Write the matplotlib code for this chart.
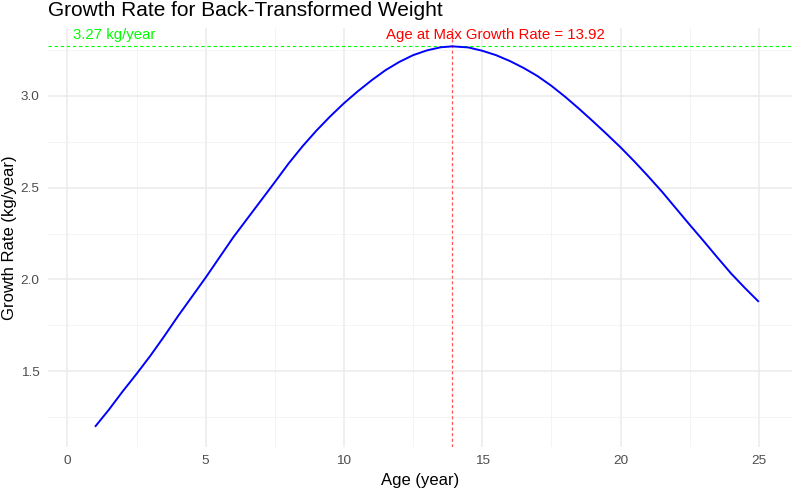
import matplotlib
matplotlib.use("Agg")
import matplotlib.pyplot as plt
from matplotlib.ticker import MultipleLocator

# Data
age = [1, 1.5, 2, 2.5, 3, 3.5, 4, 4.5, 5, 5.5, 6, 6.5, 7, 7.5, 8, 8.5, 9, 9.5, 10,
       10.5, 11, 11.5, 12, 12.5, 13, 13.5, 13.92, 14.5, 15, 15.5, 16, 16.5, 17, 17.5,
       18, 18.5, 19, 19.5, 20, 20.5, 21, 21.5, 22, 22.5, 23, 23.5, 24, 24.5, 25]
growth_rate = [1.197, 1.29, 1.39, 1.485, 1.584, 1.69, 1.80, 1.905, 2.01, 2.12, 2.23, 2.33,
               2.43, 2.53, 2.632, 2.725, 2.81, 2.888, 2.96, 3.025, 3.085, 3.14, 3.185,
               3.222, 3.248, 3.265, 3.27, 3.264, 3.246, 3.222, 3.19, 3.152, 3.108, 3.055,
               2.995, 2.93, 2.862, 2.792, 2.72, 2.643, 2.562, 2.478, 2.388, 2.298, 2.21,
               2.12, 2.032, 1.953, 1.878]
max_rate = 3.27
age_at_max = 13.92
x_ticks = [0, 5, 10, 15, 20, 25]
y_ticks = [1.5, 2.0, 2.5, 3.0]

plt.rcParams['font.family'] = ['Liberation Sans', 'DejaVu Sans']

fig = plt.figure(figsize=(7.94, 4.91), dpi=100)
ax = fig.add_axes([48/794, 1-447/491, (792-48)/794, (447-28)/491])

ax.set_xlim(-0.70, 26.2)
ax.set_ylim(1.087, 3.37)

# grid
ax.set_xticks(x_ticks)
ax.set_yticks(y_ticks)
ax.xaxis.set_minor_locator(MultipleLocator(2.5))
ax.yaxis.set_minor_locator(MultipleLocator(0.25))
ax.grid(which='major', color='#EBEBEB', linewidth=1.1, zorder=0)
ax.grid(which='minor', color='#F2F2F2', linewidth=0.6, zorder=0)
ax.set_axisbelow(True)
for s in ax.spines.values():
    s.set_visible(False)
ax.tick_params(which='both', length=0)
ax.tick_params(axis='x', pad=6, labelsize=9.7, labelcolor='#4D4D4D')
ax.tick_params(axis='y', pad=6, labelsize=9.7, labelcolor='#4D4D4D')
ax.set_xticklabels([str(v) for v in x_ticks])
ax.set_yticklabels([f"{v:.1f}" for v in y_ticks])

ax.plot(age, growth_rate, color='#0000FF', linewidth=1.4, zorder=3,
        solid_capstyle='butt', solid_joinstyle='round')
ax.axhline(max_rate, color='#00FF00', linestyle=(0, (3, 2.5)), linewidth=0.8, zorder=2)
ax.axvline(age_at_max, color='#FF5555', linestyle=(0, (2.5, 2)), linewidth=0.9, zorder=2)

ax.text(0.2, max_rate + 0.025, f"{max_rate:.2f} kg/year", color='#00FF00', fontsize=10.8,
        ha='left', va='bottom')
ax.text(age_at_max + 1.57, max_rate + 0.025, f"Age at Max Growth Rate = {age_at_max:.2f}",
        color='#FF0000', fontsize=10.8, ha='center', va='bottom')

fig.text(420/794, 1-481/491, "Age (year)", fontsize=12, ha='center', va='center')
fig.text(10/794, 1-237.5/491, "Growth Rate (kg/year)", fontsize=12, ha='center',
         va='center', rotation=90)
fig.text(48/794, 1-1/491, "Growth Rate for Back-Transformed Weight", fontsize=15,
         ha='left', va='top')

fig.savefig("out.png", dpi=100)
